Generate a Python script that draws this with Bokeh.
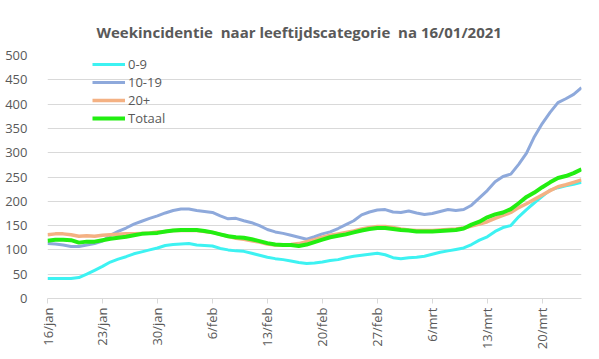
import math
from bokeh.plotting import figure
from bokeh.models import Range1d, FixedTicker, Legend, LegendItem, Title
from bokeh.embed import file_html
from bokeh.resources import INLINE

# ---- data ----
start_date = "16/01/2021"
tick_days = [0, 7, 14, 21, 28, 35, 42, 49, 56, 63]
tick_labels = ["16/jan", "23/jan", "30/jan", "6/feb", "13/feb",
               "20/feb", "27/feb", "6/mrt", "13/mrt", "20/mrt"]
y_ticks = [0, 50, 100, 150, 200, 250, 300, 350, 400, 450, 500]

age_0_9 = [41, 41, 41, 41, 43, 50, 58, 66, 75, 81, 86, 92, 96, 100, 104, 109,
           111, 112, 113, 110, 109, 108, 103, 100, 98, 97, 93, 89, 85, 82, 80,
           77, 74, 72, 73, 75, 78, 80, 84, 87, 89, 91, 93, 90, 84, 82, 84, 85,
           87, 91, 95, 98, 101, 104, 111, 120, 127, 138, 146, 150, 168, 183,
           197, 210, 223, 228, 232, 235, 239]
age_10_19 = [113, 112, 110, 107, 107, 110, 113, 118, 130, 138, 145, 153, 159,
             165, 170, 176, 181, 184, 184, 181, 179, 177, 170, 164, 165, 160,
             156, 150, 142, 137, 134, 130, 126, 122, 127, 133, 137, 144, 152,
             160, 172, 178, 182, 183, 178, 177, 180, 176, 173, 175, 179, 183,
             181, 183, 192, 207, 222, 240, 251, 256, 276, 299, 333, 360, 383,
             403, 411, 420, 434]
age_20_plus = [131, 133, 133, 131, 128, 129, 128, 130, 131, 132, 133, 133, 134,
               135, 137, 138, 140, 140, 140, 140, 138, 136, 132, 128, 124, 122,
               119, 116, 112, 110, 110, 111, 113, 117, 121, 126, 130, 133, 136,
               139, 143, 146, 148, 148, 146, 143, 141, 140, 140, 140, 141, 142,
               143, 145, 149, 153, 158, 165, 171, 177, 187, 195, 204, 213, 222,
               230, 234, 239, 244]
totaal = [119, 121, 121, 120, 115, 117, 117, 120, 123, 125, 127, 130, 133, 134,
          135, 138, 140, 141, 141, 141, 139, 136, 132, 128, 126, 125, 122, 118,
          114, 111, 110, 110, 108, 111, 116, 121, 126, 129, 132, 136, 140, 143,
          145, 145, 143, 141, 140, 138, 138, 138, 139, 140, 141, 144, 152, 158,
          167, 173, 177, 184, 196, 209, 218, 229, 239, 248, 252, 258, 266]
series_names = ["0-9", "10-19", "20+", "Totaal"]

days = list(range(len(totaal)))

GREY = "#595959"
FONT = "Open Sans"

p = figure(frame_width=534, frame_height=243, output_backend="svg", toolbar_location=None,
           x_range=Range1d(0, 68), y_range=Range1d(0, 500),
           min_border_left=47, min_border_right=18, min_border_top=55,
           min_border_bottom=61)
p.outline_line_color = None
p.background_fill_color = "white"
p.border_fill_color = "white"

p.title = Title(text="Weekincidentie\u00a0 naar leeftijdscategorie\u00a0 na " + start_date,
                align="left", offset=49, standoff=27, text_font=FONT, text_font_size="15px",
                text_font_style="bold", text_color=GREY)

colors = ["#3DF2F2", "#8EA9DB", "#F4B183", "#22EE11"]
widths = [3, 3, 3.5, 4]
data = [age_0_9, age_10_19, age_20_plus, totaal]
renderers = []
for ys, c, w in zip(data, colors, widths):
    r = p.line(days, ys, line_color=c, line_width=w, line_join="round")
    renderers.append(r)

legend = Legend(items=[LegendItem(label=n, renderers=[r]) for n, r in zip(series_names, renderers)],
                location=(45, 171), padding=0, spacing=0, margin=0,
                glyph_width=33, glyph_height=18, label_height=18, label_standoff=3,
                label_text_font=FONT, label_text_font_size="13px",
                label_text_color=GREY, border_line_alpha=0, background_fill_alpha=0)
p.add_layout(legend)

p.xgrid.grid_line_color = None
p.ygrid.grid_line_color = "#D9D9D9"
p.ygrid.ticker = FixedTicker(ticks=y_ticks)

xa = p.xaxis[0]
xa.ticker = FixedTicker(ticks=tick_days)
xa.major_label_overrides = {d: l for d, l in zip(tick_days, tick_labels)}
xa.major_label_orientation = math.pi / 2
xa.axis_line_color = "#D9D9D9"
xa.major_tick_line_color = "#D9D9D9"
xa.major_tick_out = 5
xa.major_tick_in = 0
xa.minor_tick_line_color = None
xa.major_label_standoff = 4
xa.major_label_text_font = FONT
xa.major_label_text_font_size = "13px"
xa.major_label_text_color = GREY

ya = p.yaxis[0]
ya.ticker = FixedTicker(ticks=y_ticks)
ya.axis_line_color = None
ya.major_tick_line_color = None
ya.minor_tick_line_color = None
ya.major_label_standoff = 14
ya.major_label_text_font = FONT
ya.major_label_text_font_size = "13px"
ya.major_label_text_color = GREY

open("out.html", "w").write(file_html(p, INLINE))
